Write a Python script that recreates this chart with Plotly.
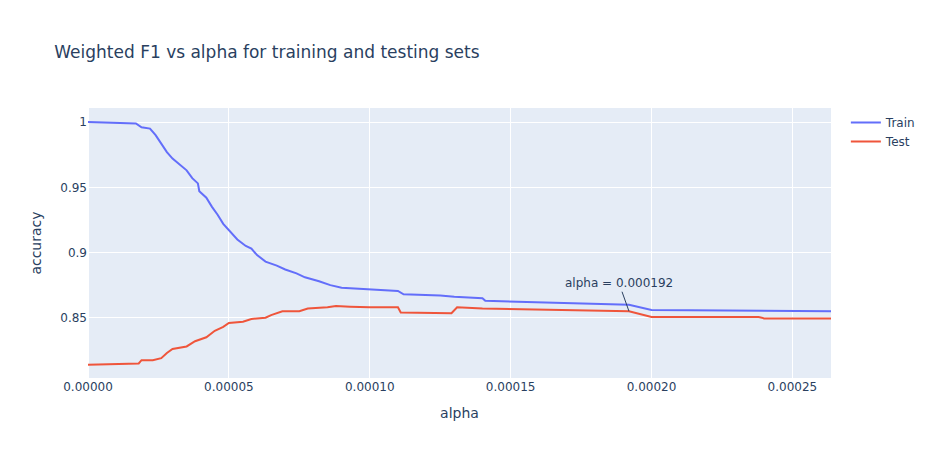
import plotly.graph_objects as go

train_alpha = [0, 1.5e-5, 1.7e-5, 1.9e-5, 2.2e-5, 2.4e-5, 2.6e-5, 2.8e-5, 3.0e-5, 3.3e-5, 3.5e-5, 3.7e-5, 3.9e-5, 3.95e-5, 4.2e-5, 4.4e-5, 4.6e-5, 4.8e-5, 5.0e-5, 5.3e-5, 5.6e-5, 5.8e-5, 6.0e-5, 6.3e-5, 6.7e-5, 7.0e-5, 7.4e-5, 7.7e-5, 8.2e-5, 8.6e-5, 9.0e-5, 1.0e-4, 1.1e-4, 1.12e-4, 1.25e-4, 1.3e-4, 1.4e-4, 1.41e-4, 1.7e-4, 1.92e-4, 2.0e-4, 2.38e-4, 2.4e-4, 2.637e-4]
train_f1 = [1.0, 0.9995, 0.999, 0.996, 0.995, 0.99, 0.983, 0.977, 0.972, 0.967, 0.963, 0.957, 0.953, 0.947, 0.942, 0.935, 0.929, 0.922, 0.917, 0.91, 0.905, 0.903, 0.898, 0.893, 0.89, 0.887, 0.884, 0.881, 0.878, 0.875, 0.873, 0.872, 0.8705, 0.868, 0.867, 0.866, 0.865, 0.863, 0.861, 0.86, 0.856, 0.8555, 0.855, 0.855]

test_alpha = [0, 1.7e-5, 1.8e-5, 1.9e-5, 2.3e-5, 2.6e-5, 2.8e-5, 3.0e-5, 3.5e-5, 3.8e-5, 4.2e-5, 4.5e-5, 4.8e-5, 5.0e-5, 5.5e-5, 5.8e-5, 6.3e-5, 6.5e-5, 6.9e-5, 7.5e-5, 7.8e-5, 8.5e-5, 8.8e-5, 9.3e-5, 1.0e-4, 1.1e-4, 1.11e-4, 1.29e-4, 1.31e-4, 1.4e-4, 1.7e-4, 1.9e-4, 1.92e-4, 2.0e-4, 2.38e-4, 2.4e-4, 2.637e-4]
test_f1 = [0.814, 0.8145, 0.815, 0.8175, 0.8175, 0.819, 0.823, 0.826, 0.828, 0.832, 0.835, 0.84, 0.843, 0.846, 0.847, 0.849, 0.85, 0.852, 0.855, 0.855, 0.857, 0.858, 0.859, 0.8585, 0.858, 0.858, 0.854, 0.8535, 0.858, 0.857, 0.856, 0.855, 0.855, 0.8505, 0.8505, 0.8495, 0.8495]

best_alpha = 0.000192
best_f1 = 0.855

fig = go.Figure()
fig.add_trace(go.Scatter(x=train_alpha, y=train_f1, mode="lines", name="Train"))
fig.add_trace(go.Scatter(x=test_alpha, y=test_f1, mode="lines", name="Test"))
fig.add_annotation(x=best_alpha, y=best_f1, text=f"alpha = {best_alpha}", showarrow=True,
                   arrowhead=0, ax=-10, ay=-28)
fig.update_layout(template="plotly", width=925, height=450,
                  font=dict(family="DejaVu Sans, Verdana, sans-serif"),
                  title="Weighted F1 vs alpha for training and testing sets",
                  xaxis_title="alpha", yaxis_title="accuracy")
fig.update_xaxes(range=[0, 0.0002637], dtick=0.00005, tickformat=".5f")
fig.update_yaxes(range=[0.8038, 1.0108])
fig.write_html("out.html")
